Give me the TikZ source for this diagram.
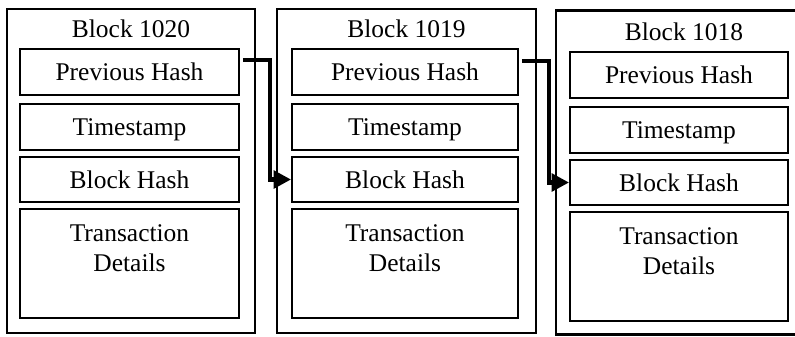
\documentclass[tikz,border=0pt]{standalone}
\usepackage{fontspec}
\setmainfont{Liberation Serif}
\usetikzlibrary{arrows.meta,calc,positioning}

\begin{document}
\begin{tikzpicture}[x=0.02cm, y=-0.02cm, line join=miter,
    font=\fontsize{14.5}{17}\selectfont,
    blockbox/.style={draw, line width=1.2pt, inner sep=0pt},
    field/.style={draw, line width=1.05pt, inner sep=0pt, text depth=0pt},
    caption/.style={inner sep=0pt},
    link/.style={line width=2.7pt, -{Triangle[length=10pt, width=10pt]}}]
    \useasboundingbox (0,0) rectangle (795,336);
    \clip (0,0) rectangle (795,336);

    \foreach \n/\xl/\xr/\il/\ir/\dy in {
        1020/7/255/20/239/0,
        1019/277/536/292/518/0,
        1018/556/812/570/788/3}
    {
        \node[blockbox, minimum width={(\xr-\xl)*0.02cm}, minimum height=6.48cm]
            (b\n) at ({(\xl+\xr)/2},{171+\dy/2}) {};
        \node[caption, anchor=base] (t\n) at ({(\xl+\xr)/2},{37+\dy}) {Block \n};

        \node[field, minimum width={(\ir-\il)*0.02cm}, minimum height=0.92cm]
            (ph\n) at ({(\il+\ir)/2},{72+\dy}) {Previous Hash};
        \node[field, minimum width={(\ir-\il)*0.02cm}, minimum height=0.92cm]
            (ts\n) at ({(\il+\ir)/2},{127+\dy}) {Timestamp};
        \node[field, minimum width={(\ir-\il)*0.02cm}, minimum height=0.9cm]
            (bh\n) at ({(\il+\ir)/2},{179.5+\dy}) {Block Hash};
        \node[field, minimum width={(\ir-\il)*0.02cm}, minimum height=2.18cm]
            (td\n) at ({(\il+\ir)/2},{263.5+\dy}) {};
        \node[caption, align=center, anchor=north] (tx\n)
            at ([yshift=-0.33cm]td\n.north) {Transaction\\Details};
    }

    % previous hash points at the block before
    \draw[link] ([xshift=0.06cm, yshift=0.24cm]ph1020.east) -- ++(27,0) |- (bh1019.west);
    \draw[link] ([xshift=0.06cm, yshift=0.22cm]ph1019.east) -- ++(27,0) |- (bh1018.west);
\end{tikzpicture}
\end{document}
